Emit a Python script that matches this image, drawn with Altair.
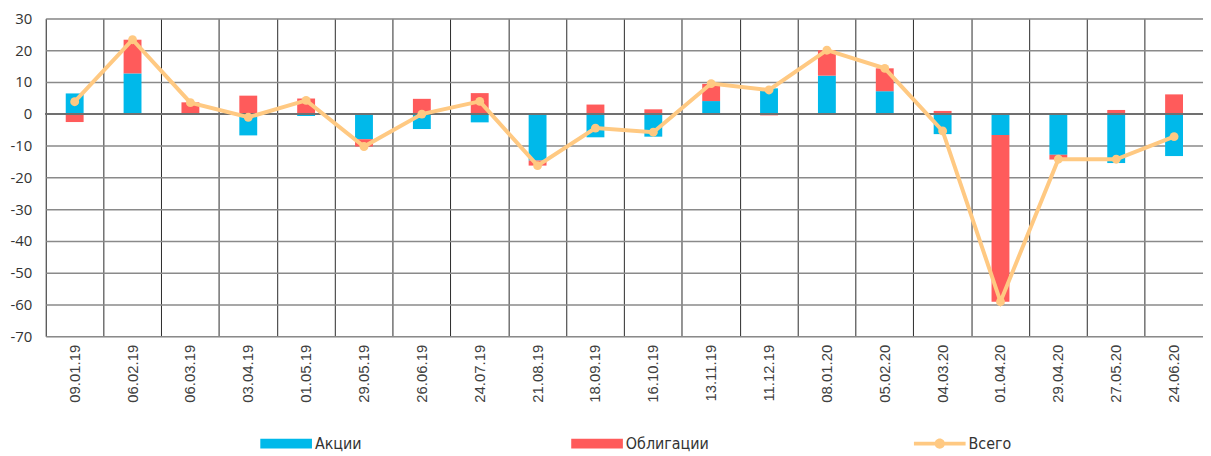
import altair as alt
import pandas as pd

dates = ["09.01.19", "06.02.19", "06.03.19", "03.04.19", "01.05.19", "29.05.19",
         "26.06.19", "24.07.19", "21.08.19", "18.09.19", "16.10.19", "13.11.19",
         "11.12.19", "08.01.20", "05.02.20", "04.03.20", "01.04.20", "29.04.20",
         "27.05.20", "24.06.20"]
stocks = [6.4, 12.7, 0.0, -6.8, -0.7, -8.0, -4.8, -2.7, -14.7, -7.4, -7.2, 4.0,
          8.0, 12.0, 7.1, -6.4, -6.7, -12.9, -15.5, -13.3]
bonds = [-2.6, 10.6, 3.6, 5.7, 4.8, -2.3, 4.7, 6.5, -1.6, 2.9, 1.4, 5.4,
         -0.5, 8.0, 7.2, 0.9, -52.4, -1.5, 1.2, 6.1]
totals = [3.8, 23.3, 3.5, -1.1, 4.2, -10.3, -0.1, 3.9, -16.3, -4.5, -5.8, 9.5,
          7.5, 20.0, 14.3, -5.4, -59.1, -14.3, -14.3, -7.2]
bar_series = ["Акции", "Облигации"]
bar_colors = ["#00B9EA", "#FF5B5B"]
total_series = ["Всего"]
total_color = "#FFC982"
y_ticks = [-70, -60, -50, -40, -30, -20, -10, 0, 10, 20, 30]

rows = []
for d, s, b in zip(dates, stocks, bonds):
    rows.append({"date": d, "series": bar_series[0], "value": s, "ord": 0})
    rows.append({"date": d, "series": bar_series[1], "value": b, "ord": 1})
bars_df = pd.DataFrame(rows)
tot_df = pd.DataFrame({"date": dates, "value": totals, "series": total_series[0]})

PATH_RECT = "M-1,-0.19H1V0.19H-1Z"
PATH_LINE = ("M-1,-0.075H1V0.075H-1Z "
             "M-0.2,0A0.2,0.2 0 1,1 0.2,0A0.2,0.2 0 1,1 -0.2,0Z")
LFONT = "Liberation Sans Narrow, DejaVu Sans Condensed, sans-serif"

bar_legend = alt.Legend(
    orient="none", legendX=216, legendY=402, direction="horizontal", title=None,
    symbolSize=2704, symbolType=PATH_RECT, symbolStrokeWidth=0, columnPadding=210,
    labelFont=LFONT, labelFontSize=16, labelColor="#333333", labelOffset=3, padding=0,
)
tot_legend = alt.Legend(
    orient="none", legendX=874, legendY=402, direction="horizontal", title=None,
    symbolSize=2704, symbolType=PATH_LINE, symbolStrokeWidth=0,
    labelFont=LFONT, labelFontSize=16, labelColor="#333333", labelOffset=3, padding=0,
)

x = alt.X("date:N", sort=dates, title=None,
          scale=alt.Scale(paddingInner=0, paddingOuter=0),
          axis=alt.Axis(labelAngle=270, labelFont="Liberation Sans", labelFontSize=15,
                        labelColor="#404040", labelPadding=8, ticks=False, domain=False,
                        grid=True, bandPosition=0, gridColor="#2a2a2a", gridWidth=1))
y_axis = alt.Axis(values=y_ticks, tickCount=len(y_ticks), labelFont="Open Sans",
                  labelFontSize=15, labelColor="#333333", labelPadding=14, ticks=False,
                  domain=False, labelOverlap=False, labelExpr="datum.value + ''",
                  grid=True, gridColor="#8a8a8a", gridWidth=1.5)
y = alt.Y("value:Q", stack="zero", title=None,
          scale=alt.Scale(domain=[-70, 30], nice=False), axis=y_axis)

bars = alt.Chart(bars_df).mark_bar(size=18).encode(
    x=x,
    y=y,
    color=alt.Color("series:N", scale=alt.Scale(domain=bar_series, range=bar_colors),
                    legend=bar_legend),
    order=alt.Order("ord:Q", sort="ascending"),
)

zero = alt.Chart(tot_df).mark_rule(color="#707070", strokeWidth=1.5).encode(y=alt.datum(0))

line = alt.Chart(tot_df).mark_line(strokeWidth=4, color=total_color).encode(
    x=alt.X("date:N", sort=dates), y=alt.Y("value:Q"))
pts = alt.Chart(tot_df).mark_circle(size=80, opacity=1).encode(
    x=alt.X("date:N", sort=dates), y=alt.Y("value:Q"),
    fill=alt.Fill("series:N", scale=alt.Scale(domain=total_series, range=[total_color]),
                  legend=tot_legend))

chart = alt.layer(bars, zero, line, pts).properties(
    width=1165, height=320,
    autosize=alt.AutoSizeParams(type="none"),
    padding={"left": 38, "top": 9, "right": 0, "bottom": 115},
).configure_view(stroke=None).configure(background="white")

chart.save("out.html", embed_options={"renderer": "svg", "actions": False})
